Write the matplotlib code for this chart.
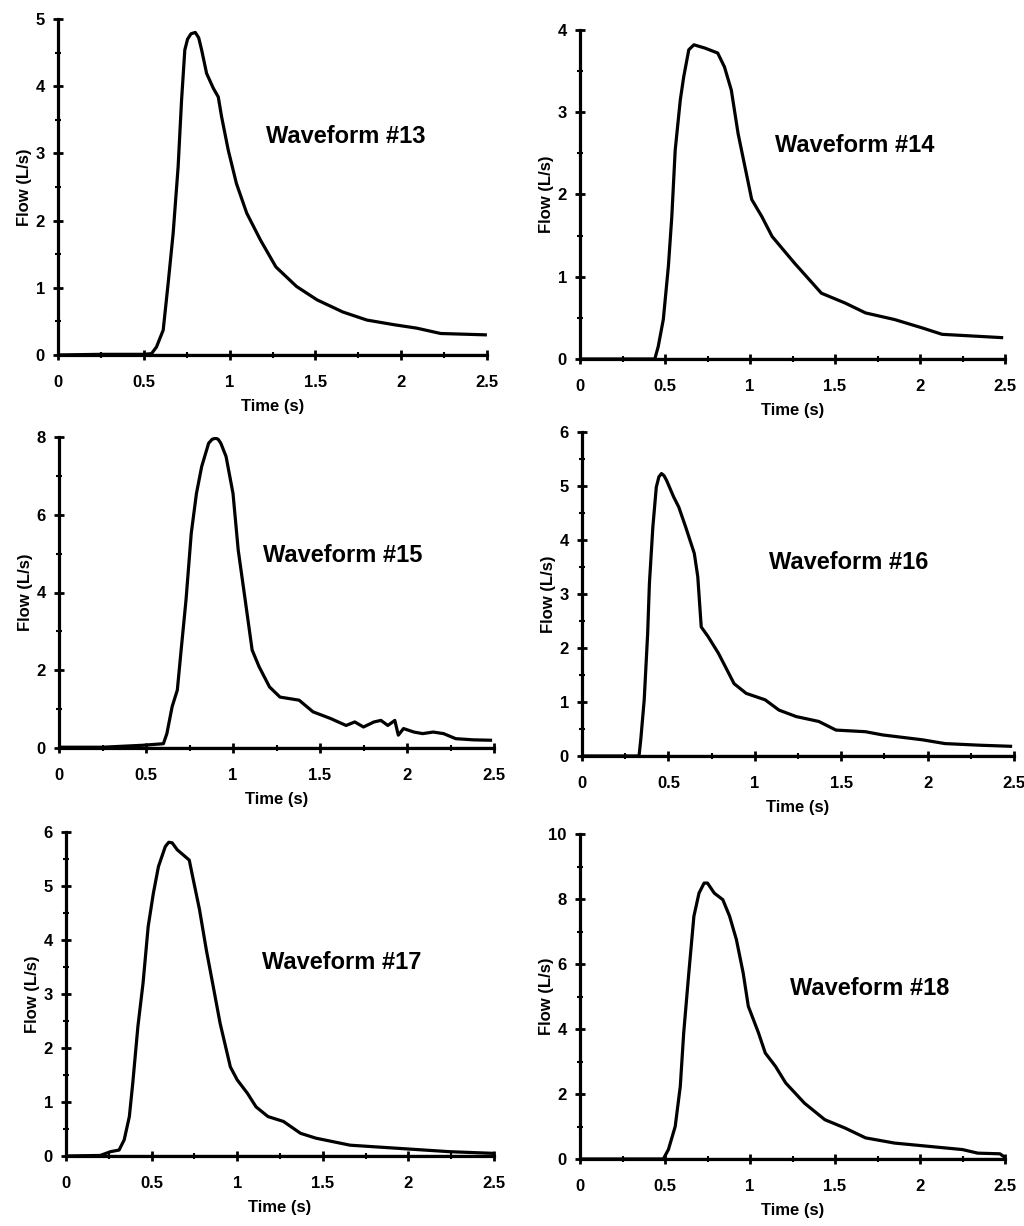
import numpy as np
import matplotlib
matplotlib.use('Agg')
import matplotlib.pyplot as plt
from matplotlib.ticker import MultipleLocator

plt.rcParams['font.family'] = ['Liberation Sans', 'DejaVu Sans']
plt.rcParams['font.weight'] = 'bold'

# ── waveform data (time in s, flow in L/s) ──
t13 = [0, 0.25, 0.50, 0.545, 0.574, 0.613, 0.642, 0.671, 0.70, 0.72, 0.739, 0.755,
       0.775, 0.80, 0.82, 0.837, 0.866, 0.905, 0.934, 0.953, 0.992, 1.04, 1.10,
       1.18, 1.27, 1.39, 1.51, 1.66, 1.80, 1.96, 2.09, 2.23, 2.49]
q13 = [0, 0.01, 0.01, 0.02, 0.12, 0.37, 1.07, 1.81, 2.80, 3.79, 4.54, 4.70,
       4.78, 4.80, 4.72, 4.54, 4.19, 3.97, 3.84, 3.55, 3.05, 2.55, 2.11,
       1.71, 1.31, 1.02, 0.82, 0.64, 0.52, 0.45, 0.40, 0.32, 0.30]

t14 = [0, 0.25, 0.44, 0.46, 0.49, 0.52, 0.54, 0.56, 0.59, 0.61, 0.64, 0.67,
       0.735, 0.81, 0.85, 0.89, 0.93, 0.97, 1.01, 1.07, 1.13, 1.26, 1.42,
       1.56, 1.68, 1.85, 2.01, 2.13, 2.48]
q14 = [0, 0.0, 0.0, 0.15, 0.48, 1.13, 1.73, 2.54, 3.15, 3.43, 3.76, 3.82,
       3.78, 3.72, 3.55, 3.27, 2.74, 2.34, 1.94, 1.73, 1.49, 1.17, 0.80,
       0.68, 0.56, 0.48, 0.38, 0.30, 0.26]

t15 = [0, 0.25, 0.48, 0.60, 0.62, 0.65, 0.68, 0.70, 0.73, 0.76, 0.79, 0.82,
       0.86, 0.88, 0.90, 0.915, 0.93, 0.96, 1.00, 1.03, 1.07, 1.11, 1.15, 1.21,
       1.27, 1.38, 1.46, 1.56, 1.65, 1.70, 1.75, 1.81, 1.85, 1.89, 1.93, 1.95,
       1.98, 2.04, 2.09, 2.15, 2.21, 2.28, 2.38, 2.48]
q15 = [0.02, 0.02, 0.07, 0.11, 0.37, 1.06, 1.49, 2.43, 3.81, 5.52, 6.55, 7.24,
       7.84, 7.94, 7.97, 7.94, 7.84, 7.50, 6.55, 5.09, 3.81, 2.52, 2.09, 1.57,
       1.31, 1.23, 0.93, 0.76, 0.58, 0.67, 0.54, 0.67, 0.71, 0.58, 0.71, 0.33,
       0.50, 0.41, 0.37, 0.41, 0.37, 0.24, 0.21, 0.20]

t16 = [0, 0.20, 0.33, 0.34, 0.36, 0.38, 0.39, 0.41, 0.43, 0.445, 0.46, 0.475,
       0.49, 0.53, 0.56, 0.60, 0.65, 0.67, 0.69, 0.73, 0.79, 0.88, 0.95, 1.06,
       1.14, 1.24, 1.37, 1.47, 1.64, 1.74, 1.97, 2.10, 2.30, 2.48]
q16 = [0, 0.0, 0.0, 0.30, 1.04, 2.27, 3.19, 4.24, 4.98, 5.17, 5.23, 5.19,
       5.10, 4.80, 4.61, 4.24, 3.75, 3.32, 2.39, 2.21, 1.90, 1.34, 1.16, 1.04,
       0.85, 0.73, 0.64, 0.48, 0.45, 0.39, 0.30, 0.23, 0.20, 0.18]

t17 = [0, 0.20, 0.26, 0.31, 0.34, 0.37, 0.39, 0.42, 0.45, 0.48, 0.51, 0.54,
       0.58, 0.60, 0.62, 0.65, 0.72, 0.74, 0.78, 0.82, 0.86, 0.90, 0.96, 1.00,
       1.06, 1.11, 1.18, 1.27, 1.37, 1.46, 1.66, 1.95, 2.24, 2.49]
q17 = [0, 0.01, 0.08, 0.11, 0.30, 0.73, 1.35, 2.40, 3.20, 4.25, 4.86, 5.36,
       5.73, 5.81, 5.80, 5.67, 5.48, 5.17, 4.56, 3.81, 3.14, 2.46, 1.65, 1.41,
       1.16, 0.91, 0.73, 0.64, 0.42, 0.33, 0.20, 0.14, 0.08, 0.05]

t18 = [0, 0.25, 0.49, 0.52, 0.56, 0.59, 0.61, 0.64, 0.67, 0.70, 0.73, 0.75,
       0.79, 0.84, 0.88, 0.92, 0.96, 0.99, 1.05, 1.09, 1.15, 1.21, 1.32,
       1.44, 1.56, 1.68, 1.85, 2.05, 2.25, 2.34, 2.47, 2.50]
q18 = [0, 0.0, 0.0, 0.29, 1.00, 2.24, 3.88, 5.72, 7.47, 8.18, 8.49, 8.49,
       8.18, 7.98, 7.47, 6.75, 5.72, 4.70, 3.88, 3.26, 2.85, 2.34, 1.72,
       1.21, 0.95, 0.65, 0.49, 0.39, 0.29, 0.18, 0.16, 0.05]

titles = ['Waveform #13', 'Waveform #14', 'Waveform #15',
          'Waveform #16', 'Waveform #17', 'Waveform #18']
ymax = [5, 4, 8, 6, 6, 10]
ystep = [1, 1, 2, 1, 1, 2]
series = [(t13, q13), (t14, q14), (t15, q15), (t16, q16), (t17, q17), (t18, q18)]

# axes boxes in pixels: left, right, top, bottom (measured on the 1024x1226 scan)
W, H = 1024, 1226
boxes = [(58, 487, 19, 355), (580, 1005, 30, 359),
         (59, 494, 437, 748), (582, 1014, 432, 756),
         (66, 494, 832, 1156), (580, 1005, 834, 1159)]
text_pos = [(0.67, 0.65), (0.647, 0.65), (0.653, 0.62),
            (0.618, 0.596), (0.645, 0.596), (0.682, 0.526)]

fig = plt.figure(figsize=(W / 100, H / 100), dpi=100)

for i, (t, q) in enumerate(series):
    l, r, top, bot = boxes[i]
    ax = fig.add_axes([l / W, 1 - bot / H, (r - l) / W, (bot - top) / H])
    ax.plot(t, q, color='black', lw=2.3, solid_joinstyle='round')
    ax.axhline(0, color='black', lw=2.3)

    ax.set_xlim(0, 2.5)
    ax.set_ylim(0, ymax[i])
    ax.xaxis.set_major_locator(MultipleLocator(0.5))
    ax.xaxis.set_minor_locator(MultipleLocator(0.25))
    ax.yaxis.set_major_locator(MultipleLocator(ystep[i]))
    ax.yaxis.set_minor_locator(MultipleLocator(ystep[i] / 2))
    ax.set_xticklabels([f'{v:g}' for v in ax.get_xticks()])

    for side in ('top', 'right'):
        ax.spines[side].set_visible(False)
    for side in ('left', 'bottom'):
        ax.spines[side].set_linewidth(2.3)
    ax.tick_params(which='major', direction='inout', length=7, width=2,
                   labelsize=12)
    ax.tick_params(which='minor', direction='inout', length=4, width=1.5)
    ax.tick_params(axis='x', which='major', pad=11)
    ax.tick_params(axis='y', which='major', pad=6)
    for lab in ax.get_xticklabels() + ax.get_yticklabels():
        lab.set_fontweight('bold')

    ax.set_xlabel('Time (s)', fontsize=12, fontweight='bold')
    ax.set_ylabel('Flow (L/s)', fontsize=12, fontweight='bold')
    ax.xaxis.set_label_coords(0.5, -44 / (bot - top))
    ax.yaxis.set_label_coords(-26 / (r - l), 0.5)

    ax.text(text_pos[i][0], text_pos[i][1], titles[i], transform=ax.transAxes,
            ha='center', va='center', fontsize=17, fontweight='bold')

fig.savefig('out.png', dpi=100, facecolor='white')
